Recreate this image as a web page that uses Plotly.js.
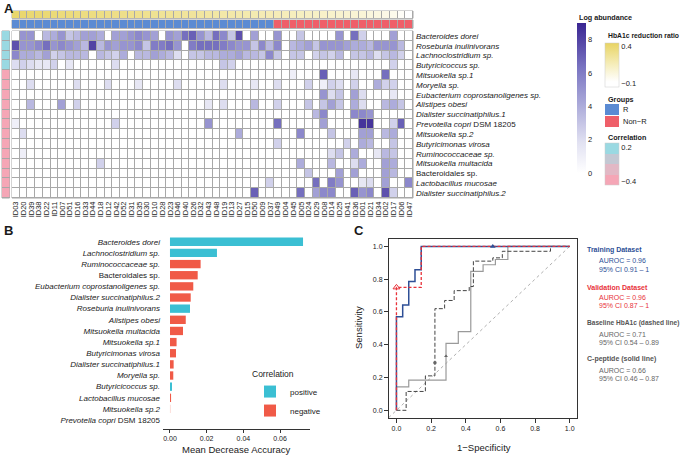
<!DOCTYPE html>
<html>
<head>
<meta charset="utf-8">
<script src="https://cdn.plot.ly/plotly-3.0.1.min.js"></script>
<style>
  html, body { margin: 0; padding: 0; background: #fff; }
  #fig { width: 687px; height: 455px; }
</style>
</head>
<body>
<div id="fig"></div>
<script>
// ---- Panel A data ----
const sampleIds = ['ID03','ID20','ID39','ID38','ID22','ID11','ID07','ID51','ID16','ID33','ID44','ID18','ID12',
  'ID42','ID52','ID31','ID35','ID30','ID10','ID28','ID23','ID46','ID40','ID26','ID32','ID43','ID48','ID19',
  'ID13','ID27','ID15','ID50','ID09','ID37','ID49','ID04','ID45','ID05','ID24','ID29','ID08','ID14','ID25',
  'ID41','ID36','ID01','ID21','ID34','ID02','ID17','ID06','ID47'];

const hba1cRatio = [0.42,0.41,0.40,0.40,0.39,0.38,0.37,0.37,0.36,0.35,0.35,0.34,0.33,0.33,0.32,0.31,0.31,0.30,
  0.29,0.28,0.28,0.27,0.26,0.26,0.25,0.24,0.23,0.22,0.22,0.21,0.20,0.19,0.18,0.18,0.17,0.16,0.15,0.14,0.13,
  0.12,0.11,0.10,0.09,0.08,0.07,0.06,0.04,0.03,0.01,-0.01,-0.05,-0.10];

const groups = ['R','R','R','R','R','R','R','R','R','R','R','R','R','R','R','R','R','R','R','R','R','R','R',
  'R','R','R','R','R','R','R','R','R','R','R','Non-R','Non-R','Non-R','Non-R','Non-R','Non-R','Non-R',
  'Non-R','Non-R','Non-R','Non-R','Non-R','Non-R','Non-R','Non-R','Non-R','Non-R','Non-R'];

const taxa = ['Bacteroides dorei','Roseburia inulinivorans','Lachnoclostridium sp.','Butyricicoccus sp.',
  'Mitsuokella sp.1','Moryella sp.','Eubacterium coprostanoligenes sp.','Alistipes obesi',
  'Dialister succinatiphilus.1','Prevotella copri DSM 18205','Mitsuokella sp.2','Butyricimonas virosa',
  'Ruminococcaceae sp.','Mitsuokella multacida','Bacteroidales sp.','Lactobacillus mucosae',
  'Dialister succinatiphilus.2'];

const taxaCorrelation = [0.22,0.21,0.20,0.18,-0.35,-0.33,-0.36,-0.34,-0.38,-0.40,-0.42,-0.41,-0.43,-0.44,-0.43,-0.45,-0.46];

// log abundance, one row per taxon, one column per sample
const abundance = [
  [0,5,5,0,3.5,4,5,3,3.5,4.5, 4.5,4,0,4.5,4.5,5,5.5,5,4.5,0, 5,4.5,6.5,7,5,3.5,6.5,5.5,3,7.5, 0,4.5,0,0,5,0,0,3,0,0, 0,0,5,0,6.5,2.5,0,0,0,4.5, 0,0],
  [7.5,5,5,5.5,6.5,5,5.5,5,4.5,3.5, 8,3.5,5,4.5,5,5,5.5,3,6,6, 6.5,5,0,6,6.5,6.5,6.5,6,5.5,5, 5,3,5.5,3.5,5.5,0,3.5,4,4.5,3, 5,5,5,4.5,4,4,3.5,5,5,5, 3.5,0],
  [5.5,4,4,3.5,4.5,2.5,3,3.5,3.5,3.5, 0,3.5,3,2.5,4,0,3.5,3.5,4.5,4, 3.5,2,0,3,3,3.5,3.5,4,4,4.5, 3.5,3.5,3,5.5,3,0,3,3,0,2.5, 3,2.5,3.5,0,3,3,3.5,2,3,3.5, 2.5,0],
  [2,2.5,2,1.5,1.5,2.5,0,1.5,0,0, 0,0,0,2,0,0,0,0,0,0, 0,0,0,0,0,0,0,3,2.5,0, 0,0,0,0,0,0,0,0,0,0, 0,0,0,0,0,0,0,0,0,2.5, 0,0],
  [0,0,0,0,0,0,0,0,0,0, 0,0,0,0,0,0,0,0,0,0, 0,0,0,0,0,0,0,0,0,0, 0,0,0,0,0,0,1,0,0,0, 7,0,0,0,1.5,0,0,0,6.5,0, 0,0],
  [0,0,2,0,0,0,0,0,2,0, 0,0,2,0,0,0,1.5,0,0,0, 0,2,0,0,0,0,0,2,0,0, 0,1.5,0,0,2,0,0,0,2.5,0, 1,2.5,2,0,2.5,0,0,4,2.5,2.5, 0,0],
  [0,0,0,0,0,0,0,0,0,0, 0,0,0,0,0,0,0,0,0,0, 0,0,0,0,0,0,0,0,0,0, 0,0,0,0,0,0,0,0,0,0, 5,2,3,0,4.5,2,0,0,0,1.5, 0,0],
  [0,0,3.5,0,0,0,4.5,0,2.5,0, 0,0,0,0,0,0,0,0,0,0, 0,0,0,0,0,1.5,0,2,0,0, 0,3.5,0,0,2.5,0,0,0,3,0, 3,4.5,3,0,4,2,0,0,3.5,4, 3,0],
  [0,0,0,0,0,0,0,0,0,0, 0,0,0,0,0,0,0,0,0,0, 0,0,0,0,0,0,0,0,0,0, 0,0,0,0,0,0,0,0,0,3.5, 5.5,0,0,0,5.5,5.5,5,0,0,0, 0,0],
  [1,0,0,0,0,0,0,0,0,0, 0,0,0,2.5,0,0,0,0,0,0, 0,0,0,0,0,5,0,0,0,0, 0,0,0,0,6.5,0,0,0,0,0, 4.5,0,0,0,0,8.5,8.5,0,0,2.5, 7,0],
  [0,2,0,0,0,0,0,0,0,0, 0,0,0,0,0,0,0,0,0,0, 0,0,0,0,0,0,0,0,0,4, 0,0,0,0,0,0,0,5.5,0,0, 0,3,0,0,0,4.5,4.5,0,3.5,4, 0,0],
  [0,0,0,0,0,0,0,0,0,0, 0,0,0,0,0,0,0,0,0,0, 0,0,0,0,0,0,0,0,0,0, 0,0,0,0,2.5,0,0,0,0,0, 0,0,0,2.5,0,4,3.5,0,0,3, 0,0],
  [0,1,0,0,0,0,0,0,0,0, 0,0,0,0,0,0,0,0,0,0, 0,0,0,0,0,0,0,0,0,0, 0,0,0,0,0,0,0,0,0,0, 0,2,3,0,4,0,0,1.5,3.5,3, 0,0],
  [0,0,0,0,0,0,0,0,0,0, 0,2.5,0,0,0,0,0,0,0,0, 0,0,0,0,0,0,0,0,0,0, 0,0,0,0,0,0,0,4,0,0, 0,3.5,0,0,2,4,0,0,4.5,4, 0,0],
  [0,0,0,0,0,0,0,0,0,0, 0,0,0,0,0,0,0,0,0,0, 0,0,0,0,0,0,0,0,0,0, 0,0,0,0,0,0,0,0,3,0, 0,0,4.5,0,4.5,0,0,0,4.5,3.5, 0,0],
  [0,0,0,0,0,0,0,0,0,0, 0,0,0,0,0,0,0,0,0,0, 0,0,0,0,0,0,0,0,0,0, 0,0,0,2.5,0,0,0,0,0,6.5, 0,6,5,0,0,1.5,2,0,4.5,0, 0,5.5],
  [0,0,0,0,0,0,0,0,0,0, 0,0,0,0,0,0,0,0,0,0, 0,0,0,0,0,0,0,0,0,0, 0,7,0,0,0,0,0,6.5,0,4.5, 5.5,5.5,0,0,7,5,5.5,0,7.5,2.5, 0,0]
];

// ---- Panel B data ----
const importanceTaxa = ['Bacteroides dorei','Lachnoclostridium sp.','Ruminococcaceae sp.','Bacteroidales sp.',
  'Eubacterium coprostanoligenes sp.','Dialister succinatiphilus.2','Roseburia inulinivorans','Alistipes obesi',
  'Mitsuokella multacida','Mitsuokella sp.1','Butyricimonas virosa','Dialister succinatiphilus.1','Moryella sp.',
  'Butyricicoccus sp.','Lactobacillus mucosae','Mitsuokella sp.2','Prevotella copri DSM 18205'];
const importance = [0.0725,0.0256,0.0167,0.0151,0.0127,0.0113,0.0109,0.0086,0.0071,0.0036,0.0033,0.0020,0.0018,0.0011,0.0006,0.0003,0];
const correlationSign = ['positive','positive','negative','negative','negative','negative','positive','negative',
  'negative','negative','negative','negative','negative','positive','negative','negative','negative'];

// ---- Panel C data ----
const trainFpr = [0,0,0.036,0.036,0.071,0.071,0.107,0.107,0.143,0.143,1];
const trainTpr = [0,0.571,0.571,0.643,0.643,0.786,0.786,0.857,0.857,1,1];
const validFpr = [0,0,0.143,0.143,1];
const validTpr = [0,0.75,0.75,1,1];
const hba1cFpr = [0,0.056,0.056,0.167,0.167,0.222,0.222,0.278,0.278,0.333,0.333,0.42,0.42,0.444,0.444,0.556,0.556,0.611,0.611,0.889,0.889,1];
const hba1cTpr = [0,0,0.115,0.115,0.21,0.21,0.62,0.62,0.67,0.67,0.73,0.73,0.755,0.755,0.91,0.91,0.93,0.93,0.97,0.97,1,1];
const cpepFpr = [0,0,0.071,0.071,0.286,0.286,0.357,0.357,0.429,0.429,0.5,0.5,0.571,0.571,0.643,0.643,1];
const cpepTpr = [0,0.143,0.143,0.184,0.184,0.408,0.408,0.48,0.48,0.847,0.847,0.888,0.888,0.92,0.92,1,1];
const chanceLine = [-0.045, 1];

const W = 687, H = 455;
const px = v => v / W;
const py = v => 1 - v / H;

function fmtTaxon(name) {
  if (name === 'Bacteroidales sp.') return name;
  if (name.endsWith(' DSM 18205')) return '<i>' + name.replace(' DSM 18205', '') + '</i> DSM 18205';
  return '<i>' + name + '</i>';
}

const gridGrey = '#a8a8a8';
const blue = '#2e4f96', red = '#e8323a';

const traces = [
  // main heatmap
  {
    type: 'heatmap', x: sampleIds, y: taxa, z: abundance, xaxis: 'x', yaxis: 'y',
    zmin: 0, zmax: 9, xgap: 1, ygap: 1,
    colorscale: [[0,'#ffffff'],[0.2,'#e2e2f2'],[0.45,'#acabda'],[0.7,'#7a75c2'],[1,'#3a2592']],
    colorbar: {
      x: px(577), xanchor: 'left', y: py(23), yanchor: 'top',
      len: 150, lenmode: 'pixels', thickness: 9, thicknessmode: 'pixels',
      xpad: 0, ypad: 0, outlinewidth: 0, ticks: '',
      tickvals: [0,2,4,6,8], tickfont: { size: 7.5, color: '#222' }
    },
    hoverinfo: 'skip'
  },
  // HbA1c reduction ratio bar
  {
    type: 'heatmap', x: sampleIds, y: ['HbA1c'], z: [hba1cRatio], xaxis: 'x2', yaxis: 'y2',
    zmin: -0.15, zmax: 0.45, xgap: 1, ygap: 0,
    colorscale: [[0,'#ffffff'],[0.12,'#ffffff'],[0.5,'#f6eebd'],[1,'#e8d463']],
    colorbar: {
      x: px(605), xanchor: 'left', y: py(43), yanchor: 'top',
      len: 44, lenmode: 'pixels', thickness: 14, thicknessmode: 'pixels',
      xpad: 0, ypad: 0, outlinewidth: 0.5, outlinecolor: '#cccccc', ticks: '',
      tickvals: [0.4, -0.1], ticktext: ['0.4', '\u22120.1'], tickfont: { size: 7.5, color: '#222' }
    },
    hoverinfo: 'skip'
  },
  // groups bar
  {
    type: 'heatmap', x: sampleIds, y: ['Group'], z: [groups.map(g => g === 'R' ? 1 : 0)],
    xaxis: 'x3', yaxis: 'y3', zmin: 0, zmax: 1, xgap: 1, ygap: 0, showscale: false,
    colorscale: [[0,'#ef5f69'],[0.5,'#ef5f69'],[0.5,'#5b8bd3'],[1,'#5b8bd3']],
    hoverinfo: 'skip'
  },
  // correlation row annotation
  {
    type: 'heatmap', x: ['corr'], y: taxa, z: taxaCorrelation.map(v => [v]),
    xaxis: 'x4', yaxis: 'y4', zmin: -0.47, zmax: 0.27, xgap: 0, ygap: 1,
    colorscale: [[0,'#f5a6b6'],[0.25,'#f5a6b6'],[0.25,'#e2b8c5'],[0.5,'#e2b8c5'],
                 [0.5,'#c3c8d3'],[0.75,'#c3c8d3'],[0.75,'#9ad9e2'],[1,'#9ad9e2']],
    colorbar: {
      x: px(605), xanchor: 'left', y: py(143), yanchor: 'top',
      len: 42, lenmode: 'pixels', thickness: 14, thicknessmode: 'pixels',
      xpad: 0, ypad: 0, outlinewidth: 0.5, outlinecolor: '#cccccc', ticks: '',
      tickvals: [0.2, -0.4], ticktext: ['0.2', '\u22120.4'], tickfont: { size: 7.5, color: '#222' }
    },
    hoverinfo: 'skip'
  }
];

// Panel B bars, split by correlation sign
['positive', 'negative'].forEach(sign => {
  const idx = importanceTaxa.map((t, i) => i).filter(i => correlationSign[i] === sign);
  traces.push({
    type: 'bar', orientation: 'h', name: sign,
    x: idx.map(i => importance[i]), y: idx.map(i => importanceTaxa[i]),
    xaxis: 'x5', yaxis: 'y5', width: 0.75,
    marker: {
      color: sign === 'positive' ? '#3bbfd3' : '#f05a47',
      opacity: idx.map(i => importanceTaxa[i] === 'Mitsuokella sp.2' ? 0.35 : 1)
    },
    showlegend: true, hoverinfo: 'skip'
  });
});

// Panel C ROC curves
traces.push(
  { type: 'scatter', mode: 'lines', x: chanceLine, y: chanceLine, xaxis: 'x6', yaxis: 'y6',
    line: { color: '#b0b0b0', width: 1, dash: 'dot' }, showlegend: false, hoverinfo: 'skip' },
  { type: 'scatter', mode: 'lines', x: cpepFpr, y: cpepTpr, xaxis: 'x6', yaxis: 'y6',
    line: { color: '#9a9a9a', width: 1.2 }, showlegend: false, hoverinfo: 'skip' },
  { type: 'scatter', mode: 'lines', x: hba1cFpr, y: hba1cTpr, xaxis: 'x6', yaxis: 'y6',
    line: { color: '#444444', width: 1, dash: '4px,2px' }, showlegend: false, hoverinfo: 'skip' },
  { type: 'scatter', mode: 'lines', x: trainFpr, y: trainTpr, xaxis: 'x6', yaxis: 'y6',
    line: { color: blue, width: 1.5 }, showlegend: false, hoverinfo: 'skip' },
  { type: 'scatter', mode: 'lines', x: validFpr, y: validTpr, xaxis: 'x6', yaxis: 'y6',
    line: { color: red, width: 1.3, dash: '3px,2px' }, showlegend: false, hoverinfo: 'skip' },
  { type: 'scatter', mode: 'markers', x: [0.556], y: [1], xaxis: 'x6', yaxis: 'y6',
    marker: { symbol: 'triangle-up', size: 5, color: blue }, showlegend: false, hoverinfo: 'skip' },
  { type: 'scatter', mode: 'markers', x: [0], y: [0.75], xaxis: 'x6', yaxis: 'y6',
    marker: { symbol: 'triangle-up-open', size: 6, color: red, line: { width: 1 } }, showlegend: false, hoverinfo: 'skip' },
  { type: 'scatter', mode: 'markers', x: [0.222, 0.286], y: [0.29, 0.33], xaxis: 'x6', yaxis: 'y6',
    marker: { symbol: ['circle', 'triangle-up'], size: 3.5, color: '#666' }, showlegend: false, hoverinfo: 'skip' }
);

const fontFam = 'Liberation Sans, Arial, Helvetica, sans-serif';
function txt(x, y, text, size, opts) {
  return Object.assign({
    xref: 'paper', yref: 'paper', x: px(x), y: py(y), text: text, showarrow: false,
    xanchor: 'left', yanchor: 'middle', font: { size: size, color: '#1a1a1a', family: fontFam }
  }, opts || {});
}

const annotations = [
  txt(2, 8, '<b>A</b>', 13),
  txt(2, 230, '<b>B</b>', 13),
  txt(352, 230, '<b>C</b>', 13),
  txt(577, 17.5, '<b>Log abundance</b>', 7.2),
  txt(606, 36, '<b>HbA1c reduction ratio</b>', 6.8),
  txt(606, 99, '<b>Groups</b>', 7.2),
  txt(621, 109.5, 'R', 7.5),
  txt(621, 121.5, 'Non\u2212R', 7.5),
  txt(606, 137, '<b>Correlation</b>', 7.2),
  txt(236, 449, 'Mean Decrease Accuracy', 9.5, { xanchor: 'center' }),
  txt(484, 447, '1\u2212Specificity', 9.5, { xanchor: 'center' }),
  txt(358, 328, 'Sensitivity', 9.5, { xanchor: 'center', textangle: -90 }),
  txt(585, 250, '<b>Training Dataset</b>', 7, { font: { size: 7, color: blue, family: fontFam } }),
  txt(597, 260.5, 'AUROC = 0.96', 7, { font: { size: 7, color: blue, family: fontFam } }),
  txt(597, 269, '95% CI 0.91 \u2013 1', 7, { font: { size: 7, color: blue, family: fontFam } }),
  txt(585, 287, '<b>Validation Dataset</b>', 7, { font: { size: 7, color: red, family: fontFam } }),
  txt(597, 297, 'AUROC = 0.96', 7, { font: { size: 7, color: red, family: fontFam } }),
  txt(597, 305.5, '95% CI 0.87 \u2013 1', 7, { font: { size: 7, color: red, family: fontFam } }),
  txt(585, 323, '<b>Baseline HbA1c (dashed line)</b>', 6.6, { font: { size: 6.6, color: '#555', family: fontFam } }),
  txt(597, 334, 'AUROC = 0.71', 7, { font: { size: 7, color: '#666', family: fontFam } }),
  txt(597, 342.5, '95% CI 0.54 \u2013 0.89', 7, { font: { size: 7, color: '#666', family: fontFam } }),
  txt(585, 359, '<b>C-peptide (solid line)</b>', 7, { font: { size: 7, color: '#555', family: fontFam } }),
  txt(597, 370, 'AUROC = 0.66', 7, { font: { size: 7, color: '#666', family: fontFam } }),
  txt(597, 378.5, '95% CI 0.46 \u2013 0.87', 7, { font: { size: 7, color: '#666', family: fontFam } })
];

// grey cell borders behind heatmaps, plus group legend keys
const gridRect = (ax) => ({
  type: 'rect', xref: 'x' + ax + ' domain', yref: 'y' + ax + ' domain', x0: 0, x1: 1, y0: 0, y1: 1,
  fillcolor: gridGrey, line: { color: gridGrey, width: 1 }, layer: 'below'
});
const shapes = [gridRect(''), gridRect('2'), gridRect('3'), gridRect('4'),
  { type: 'rect', xref: 'paper', yref: 'paper', x0: px(605), x1: px(619), y0: py(115), y1: py(104),
    fillcolor: '#5b8bd3', line: { width: 0 } },
  { type: 'rect', xref: 'paper', yref: 'paper', x0: px(605), x1: px(619), y0: py(127), y1: py(116),
    fillcolor: '#ef5f69', line: { width: 0 } }
];

const hidden = { visible: false, showgrid: false, zeroline: false };
const heatX = [px(12), px(413)];
const heatY = [py(198), py(31)];

const layout = {
  width: W, height: H,
  margin: { l: 0, r: 0, t: 0, b: 0 },
  paper_bgcolor: '#ffffff', plot_bgcolor: '#ffffff',
  font: { family: fontFam, color: '#1a1a1a' },
  showlegend: true,
  legend: {
    x: px(250), y: py(366), xanchor: 'left', yanchor: 'top',
    title: { text: 'Correlation', font: { size: 8.5 } }, font: { size: 8 },
    bgcolor: 'rgba(0,0,0,0)', itemwidth: 30, tracegroupgap: 0
  },
  xaxis: {
    domain: heatX, anchor: 'y', type: 'category', tickangle: -90, ticks: '',
    tickmode: 'array', tickvals: sampleIds, ticktext: sampleIds,
    showgrid: false, zeroline: false, tickfont: { size: 7.5 }, ticklabelstandoff: 1
  },
  yaxis: {
    domain: heatY, anchor: 'x', type: 'category', side: 'right', autorange: 'reversed', ticks: '',
    showgrid: false, zeroline: false, tickvals: taxa, ticktext: taxa.map(fmtTaxon),
    tickfont: { size: 8 }, ticklabelstandoff: 2
  },
  xaxis2: Object.assign({ domain: heatX, anchor: 'y2', type: 'category' }, hidden),
  yaxis2: Object.assign({ domain: [py(18.3), py(11)], anchor: 'x2' }, hidden),
  xaxis3: Object.assign({ domain: heatX, anchor: 'y3', type: 'category' }, hidden),
  yaxis3: Object.assign({ domain: [py(28.3), py(20)], anchor: 'x3' }, hidden),
  xaxis4: Object.assign({ domain: [px(2), px(9.5)], anchor: 'y4' }, hidden),
  yaxis4: Object.assign({ domain: heatY, anchor: 'x4', type: 'category', autorange: 'reversed' }, hidden),
  xaxis5: {
    domain: [px(163), px(310)], anchor: 'y5', range: [-0.0038, 0.0763],
    tickvals: [0, 0.02, 0.04, 0.06], tickformat: '.2f', ticks: 'outside', ticklen: 3,
    tickcolor: '#333', showline: true, linecolor: '#333', linewidth: 1,
    showgrid: false, zeroline: false, tickfont: { size: 7 }
  },
  yaxis5: {
    domain: [py(429), py(234)], anchor: 'x5', type: 'category',
    categoryarray: importanceTaxa, categoryorder: 'array', range: [16.8, -0.7],
    ticks: '', showline: false, showgrid: false, zeroline: false,
    tickvals: importanceTaxa, ticktext: importanceTaxa.map(fmtTaxon),
    tickfont: { size: 8 }, ticklabelstandoff: 2
  },
  xaxis6: {
    domain: [px(389), px(577)], anchor: 'y6', range: [-0.043, 1.042],
    tickvals: [0, 0.2, 0.4, 0.6, 0.8, 1], tickformat: '.1f', ticks: 'outside', ticklen: 4,
    tickcolor: '#333', showline: true, mirror: true, linecolor: '#333', linewidth: 1,
    showgrid: false, zeroline: false, tickfont: { size: 7 }
  },
  yaxis6: {
    domain: [py(418), py(239)], anchor: 'x6', range: [-0.047, 1.045],
    tickvals: [0, 0.2, 0.4, 0.6, 0.8, 1], tickformat: '.1f', ticks: 'outside', ticklen: 4,
    tickcolor: '#333', showline: true, mirror: true, linecolor: '#333', linewidth: 1,
    showgrid: false, zeroline: false, tickfont: { size: 7 }
  },
  annotations: annotations,
  shapes: shapes
};

Plotly.newPlot('fig', traces, layout, { displayModeBar: false, staticPlot: true });
</script>
</body>
</html>
